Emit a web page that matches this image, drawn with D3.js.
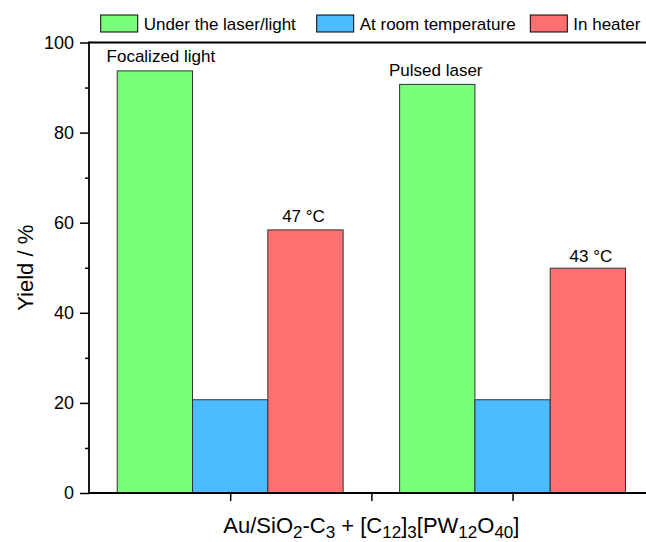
<!DOCTYPE html>
<html>
<head>
<meta charset="utf-8">
<script src="https://cdn.jsdelivr.net/npm/d3@7"></script>
<style>
  html, body { margin: 0; padding: 0; background: #fff; }
  svg { display: block; font-family: "Liberation Sans", Arial, sans-serif; }
</style>
</head>
<body>
<svg id="chart" width="646" height="542"></svg>
<script>
// ---- data ----
const groups = [1, 2];
const seriesNames = ["Under the laser/light", "At room temperature", "In heater"];
const underLight = [93.7, 90.7];
const roomTemp = [20.7, 20.7];
const inHeater = [58.4, 49.9];
const lightLabels = ["Focalized light", "Pulsed laser"];
const heaterLabels = ["47 °C", "43 °C"];
const yTicks = [0, 20, 40, 60, 80, 100];
const yMinorTicks = [10, 30, 50, 70, 90];
const xTicks = [1, 1.5, 2];

const colors = ["#79ff79", "#4dbbff", "#ff6f6f"];
const series = [underLight, roomTemp, inHeater];

const svg = d3.select("#chart");
const x = d3.scaleLinear().domain([0.5, 2.5]).range([89, 653.75]);
const y = d3.scaleLinear().domain([0, 100]).range([493, 42.5]);
const barW = 0.8 / 3;

// bars
series.forEach((vals, si) => {
  svg.append("g").selectAll("rect").data(groups).join("rect")
    .attr("x", (g) => x(g + (si - 1.5) * barW))
    .attr("width", (g) => x(g + (si - 0.5) * barW) - x(g + (si - 1.5) * barW))
    .attr("y", (g, i) => y(vals[i]))
    .attr("height", (g, i) => y(0) - y(vals[i]))
    .attr("fill", colors[si])
    .attr("stroke", "#333")
    .attr("stroke-width", 1);
});

// annotations
const lightDx = [6, -1.5];
const lightDy = [-9, -8];
svg.append("g").selectAll("text").data(groups).join("text")
  .attr("x", (g, i) => x(g - barW) + lightDx[i])
  .attr("y", (g, i) => y(underLight[i]) + lightDy[i])
  .attr("text-anchor", "middle")
  .attr("font-size", 17)
  .text((g, i) => lightLabels[i]);

const heatDx = [-2, 3];
const heatDy = [-8, -6];
svg.append("g").selectAll("text").data(groups).join("text")
  .attr("x", (g, i) => x(g + barW) + heatDx[i])
  .attr("y", (g, i) => y(inHeater[i]) + heatDy[i])
  .attr("text-anchor", "middle")
  .attr("font-size", 17)
  .text((g, i) => heaterLabels[i]);

// y axis
const yAxis = svg.append("g").attr("transform", `translate(${x(0.5)},0)`)
  .call(d3.axisLeft(y).tickValues(yTicks).tickSize(9).tickPadding(6).tickFormat(d3.format("d")));
yAxis.selectAll("text").attr("font-size", 18).attr("font-family", "Liberation Sans, Arial, sans-serif").attr("fill", "#000");
yAxis.selectAll("line").attr("stroke-width", 1.5);
yAxis.select(".domain").remove();

const yMinor = svg.append("g").attr("transform", `translate(${x(0.5)},0)`)
  .call(d3.axisLeft(y).tickValues(yMinorTicks).tickSize(4).tickFormat(""));
yMinor.selectAll("line").attr("stroke-width", 1.5);
yMinor.select(".domain").remove();

// x axis
const xAxis = svg.append("g").attr("transform", `translate(0,${y(0)})`)
  .call(d3.axisBottom(x).tickValues(xTicks).tickSize(8).tickFormat(""));
xAxis.selectAll("line").attr("stroke-width", 1.5);
xAxis.select(".domain").remove();

// frame lines
svg.append("line").attr("x1", x(0.5)).attr("x2", x(2.5)).attr("y1", y(0)).attr("y2", y(0))
  .attr("stroke", "#000").attr("stroke-width", 1.8);
svg.append("line").attr("x1", x(0.5)).attr("x2", x(2.5)).attr("y1", y(100)).attr("y2", y(100))
  .attr("stroke", "#000").attr("stroke-width", 1.8);
svg.append("line").attr("x1", x(0.5)).attr("x2", x(0.5)).attr("y1", y(0) + 0.9).attr("y2", y(100) - 0.9)
  .attr("stroke", "#000").attr("stroke-width", 1.8);
svg.append("line").attr("x1", x(2.5)).attr("x2", x(2.5)).attr("y1", y(0)).attr("y2", y(100))
  .attr("stroke", "#000").attr("stroke-width", 1.8);

// y title
svg.append("text")
  .attr("transform", `translate(33,${(y(0) + y(100)) / 2}) rotate(-90)`)
  .attr("text-anchor", "middle")
  .attr("font-size", 22)
  .text("Yield / %");

// x title with subscripts
const xt = svg.append("text")
  .attr("x", x(1.5))
  .attr("y", 533)
  .attr("text-anchor", "middle")
  .attr("font-size", 22);
const parts = [["Au/SiO", 0], ["2", 1], ["-C", 0], ["3", 1], [" + [C", 0], ["12", 1], ["]", 0], ["3", 1], ["[PW", 0], ["12", 1], ["O", 0], ["40", 1], ["]", 0]];
let prevSub = 0;
parts.forEach(([t, sub]) => {
  const ts = xt.append("tspan").text(t);
  if (sub) ts.attr("font-size", 17);
  const dy = (sub ? 5 : 0) - (prevSub ? 5 : 0);
  if (dy) ts.attr("dy", dy);
  prevSub = sub;
});

// legend
const legendX = [100.7, 316.7, 530.3];
const leg = svg.append("g");
seriesNames.forEach((name, i) => {
  leg.append("rect")
    .attr("x", legendX[i]).attr("y", 15)
    .attr("width", 37).attr("height", 17)
    .attr("fill", colors[i]).attr("stroke", "#000").attr("stroke-width", 1);
  leg.append("text")
    .attr("x", legendX[i] + 43).attr("y", 29.5)
    .attr("font-size", 17)
    .text(name);
});
</script>
</body>
</html>
